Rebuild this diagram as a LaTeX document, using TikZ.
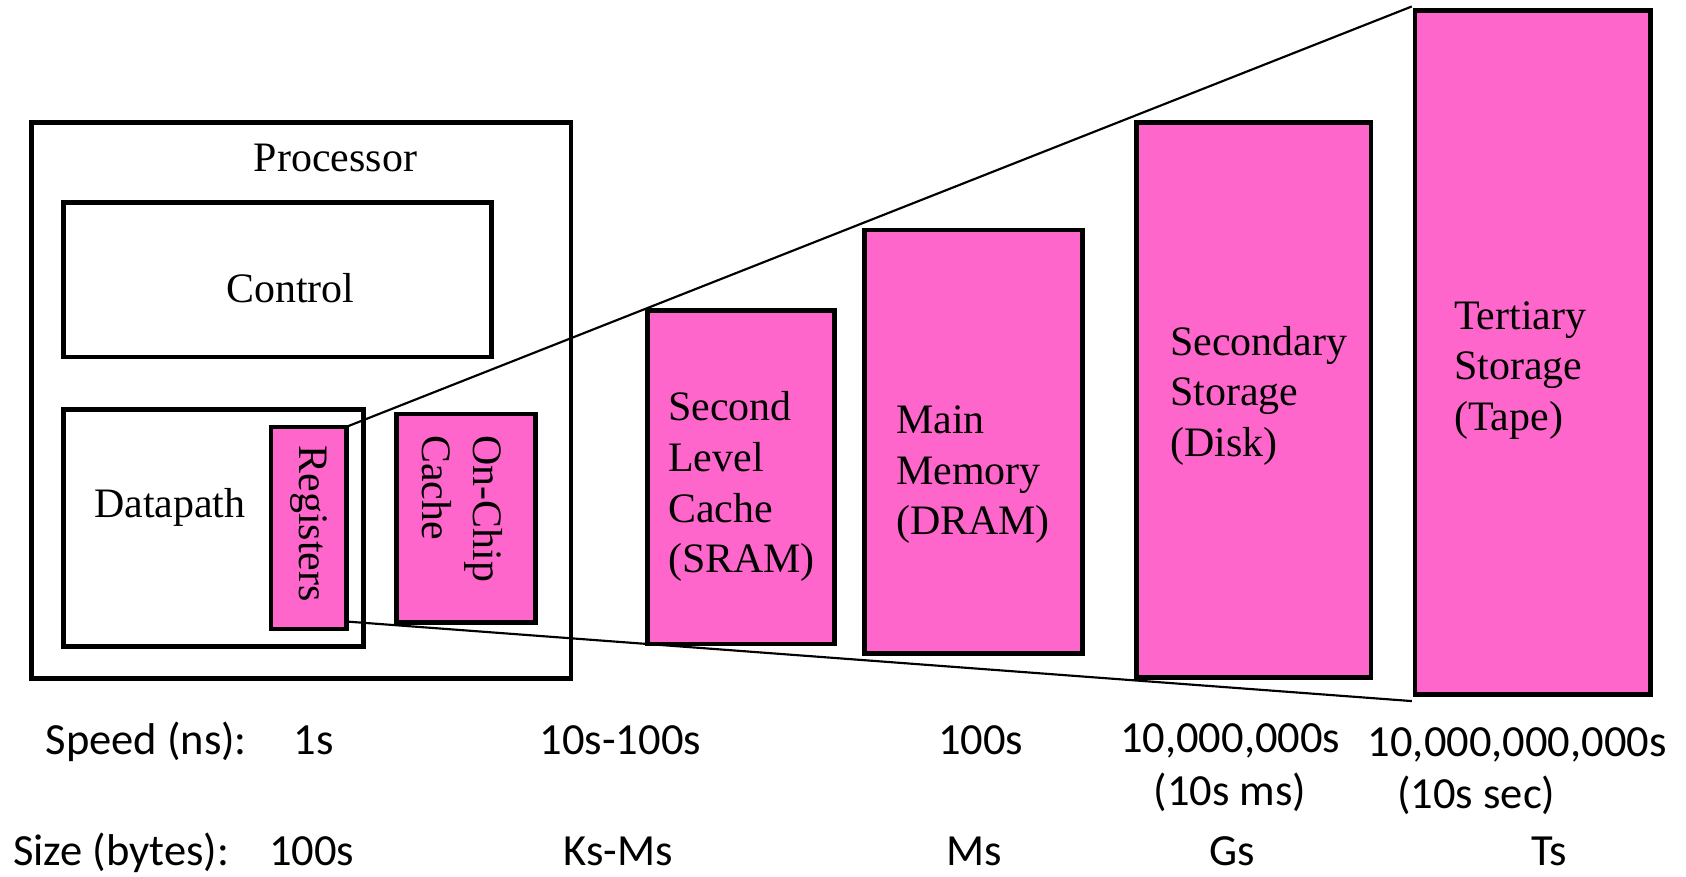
\documentclass[tikz,border=0pt]{standalone}
\usepackage{fontspec}
\setmainfont{Liberation Serif}
\newfontfamily\lblfont{Carlito}
\definecolor{hotpink}{HTML}{FF66CC}
\tikzset{
  box/.style={draw, line width=2.2pt, inner sep=0pt, outer sep=0pt},
  mem/.style={box, fill=hotpink},
  serif/.style={inner sep=0pt, font=\fontsize{19.5}{23.5}\selectfont},
  memtext/.style={serif, align=left, anchor=north west},
  lbl/.style={inner sep=0pt, anchor=base, font=\lblfont\fontsize{20.7}{24.5}\selectfont},
  lbl2/.style={inner sep=0pt, anchor=north, align=center, font=\lblfont\fontsize{20.7}{24.5}\selectfont},
  wedge/.style={line width=1pt}
}
\begin{document}
\begin{tikzpicture}[x=0.5pt,y=-0.5pt]
\useasboundingbox (0,0) rectangle (1568,815);

% processor and its parts
\node[box, minimum width=251pt, minimum height=258.5pt] (proc) at (280,372.5) {};
\node[serif] (proct) at (312,147) {Processor};
\node[box, minimum width=199pt, minimum height=72pt] (ctrl) at (258,260) {};
\node[serif, anchor=base] (ctrlt) at (270,281) {Control};
\node[box, minimum width=139.5pt, minimum height=110pt] (dp) at (198.5,491) {};
\node[serif, anchor=base] (dpt) at (158,481) {Datapath};
\node[mem, minimum width=35pt, minimum height=94pt] (reg) at (287,491) {};
\node[serif, rotate=-90] (regt) at (287,487) {Registers};
\node[mem, minimum width=64.5pt, minimum height=97pt] (occ) at (433.5,482) {};
\node[serif, rotate=-90, align=left] (occt) at (430,473) {On-Chip\\Cache};

% levels outside the processor
\node[mem, minimum width=87pt, minimum height=155pt] (sram) at (689,444) {};
\node[memtext] (sramt) at (621,364) {Second\\Level\\Cache\\(SRAM)};
\node[mem, minimum width=101.5pt, minimum height=197pt] (dram) at (905.5,411) {};
\node[memtext] (dramt) at (833,377) {Main\\Memory\\(DRAM)};
\node[mem, minimum width=109pt, minimum height=258pt] (disk) at (1166,372) {};
\node[memtext] (diskt) at (1088,303) {Secondary\\Storage\\(Disk)};
\node[mem, minimum width=109.5pt, minimum height=318pt] (tape) at (1425.5,328) {};
\node[memtext] (tapet) at (1352,280) {Tertiary\\Storage\\(Tape)};

% widening wedge from the registers to tape
\coordinate (uend) at (1313,6);
\coordinate (lend) at (1313,652);
\draw[wedge] (reg.north east) -- (uend);
\draw[wedge] ([yshift=3.5pt]reg.south east) -- (lend);

% speed and size rows
\node[lbl, anchor=base west] (speed) at (42,702) {Speed (ns):};
\node[lbl] (sp1) at (292,702) {1s};
\node[lbl] (sp2) at (577,702) {10s-100s};
\node[lbl] (sp3) at (912,702) {100s};
\node[lbl2] (sp4) at (1144,673) {10,000,000s\\(10s ms)};
\node[lbl2] (sp5) at (1411,676) {10,000,000,000s\\\hspace*{-38pt}(10s sec)};

\node[lbl, anchor=base west] (size) at (12,805) {Size (bytes):};
\node[lbl] (sz1) at (290,805) {100s};
\node[lbl] (sz2) at (575,805) {Ks-Ms};
\node[lbl] (sz3) at (906,805) {Ms};
\node[lbl] (sz4) at (1146,805) {Gs};
\node[lbl] (sz5) at (1441,805) {Ts};
\end{tikzpicture}
\end{document}
